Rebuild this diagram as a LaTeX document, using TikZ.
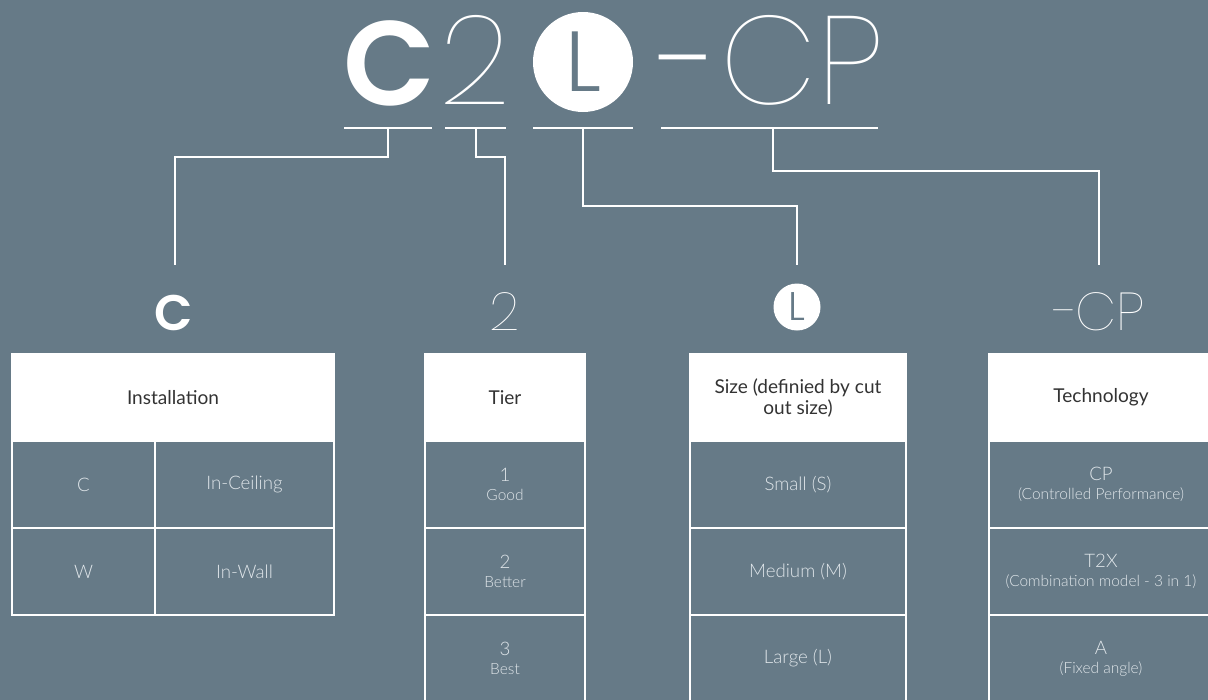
\documentclass[tikz,border=0pt]{standalone}
\usepackage{fontspec}
\setmainfont{Lato}
\newfontfamily\celllight{Lato Light}
\newfontfamily\popbold{Poppins SemiBold}
\newfontfamily\popreg{Poppins}
\newfontfamily\popthin{Poppins Thin}
\newfontfamily\poplight{Poppins Light}
\newfontfamily\popxlight{Poppins ExtraLight}
\usetikzlibrary{positioning}
\definecolor{slate}{HTML}{667A87}
\definecolor{hdrtext}{HTML}{333333}
\definecolor{celltext}{HTML}{E0E6EA}

\begin{document}
\begin{tikzpicture}[
    x=0.75pt, y=-0.75pt,
    hdr/.style={draw=white, fill=white, line width=1.2pt, minimum height=65.25pt, inner sep=0pt, align=center, text=hdrtext, font=\fontsize{14.3}{15.75}\selectfont},
    cell/.style={draw=white, line width=1.2pt, minimum height=65.25pt, inner sep=0pt, align=center, text=celltext, font=\celllight\fontsize{14}{14.25}\selectfont},
    sub/.style={font=\celllight\fontsize{11.6}{14.25}\selectfont},
    big thin/.style={anchor=base, text=white, font=\popthin\fontsize{94}{94}\selectfont},
    small thin/.style={anchor=base, text=white, font=\popthin\fontsize{40}{40}\selectfont},
    link thick/.style={draw=white, line width=2pt},
    link thin/.style={draw=white, line width=1pt},
]
\fill[slate] (0,0) rectangle (1208,700);
\clip (0,0) rectangle (1208,700);

% Model code
\node[anchor=base, text=white, font=\popbold\fontsize{90}{90}\selectfont] (tC) at (390,105) {C};
\node[big thin] (t2) at (475,104) {2};
\node[circle, fill=white, minimum size=75pt, inner sep=0pt, text=slate, font=\poplight\fontsize{64}{64}\selectfont] (tL) at (583,62) {L};
\node[anchor=base, text=white, font=\popxlight\fontsize{94}{94}\selectfont] (tDash) at (683,104) {−};
\node[big thin] (tCP) at (802,104) {CP};

% Underlines
\draw[link thick] (344,128) -- (432,128);
\draw[link thin] (445,128) -- (506,128);
\draw[link thick] (533,128) -- (633,128);
\draw[link thin] (661,128) -- (878,128);

\coordinate (sC) at (388,128);
\coordinate (s2) at (476,128);
\coordinate (sL) at (583,128);
\coordinate (sCP) at (773,128);
\coordinate (eC) at (175,265);
\coordinate (e2) at (505,265);
\coordinate (eL) at (797,265);
\coordinate (eCP) at (1099,265);

% Connectors
\draw[link thick] (sC) -- ++(0,29) -| (eC);
\draw[link thin] (s2) -- ++(0,29) -| (e2);
\draw[link thick] (sL) -- ++(0,78) -| (eL);
\draw[link thin] (sCP) -- ++(0,43) -| (eCP);

% Labels
\node[anchor=base, text=white, font=\popbold\fontsize{37.5}{37.5}\selectfont] (lC) at (174,330) {C};
\node[small thin] (l2) at (505,330) {2};
\node[circle, fill=white, minimum size=35.25pt, inner sep=0pt, text=slate, font=\poplight\fontsize{30}{30}\selectfont] (lL) at (797,307) {L};
\node[small thin] (lCP) at (1098,330) {−CP};

% Installation
\node[hdr, minimum width=241.5pt] (instH) at (173,397.5) {Installation};
\node[cell, minimum width=107.25pt] (instC) at (83.5,484.5) {C};
\node[cell, minimum width=134.25pt] (instCv) at (244.5,484.5) {In-Ceiling};
\node[cell, minimum width=107.25pt] (instW) at (83.5,571.5) {W};
\node[cell, minimum width=134.25pt] (instWv) at (244.5,571.5) {In-Wall};

% Tier
\node[hdr, minimum width=120pt] (tierH) at (505,397.5) {Tier};
\node[cell, minimum width=120pt] (tier1) at (505,484.5) {1\\{\fontsize{11.6}{14.25}\selectfont Good}};
\node[cell, minimum width=120pt] (tier2) at (505,571.5) {2\\{\fontsize{11.6}{14.25}\selectfont Better}};
\node[cell, minimum width=120pt] (tier3) at (505,658.5) {3\\{\fontsize{11.6}{14.25}\selectfont Best}};

% Size
\node[hdr, minimum width=162pt] (sizeH) at (798,397.5) {Size (definied by cut\\out size)};
\node[cell, minimum width=162pt] (sizeS) at (798,484.5) {Small (S)};
\node[cell, minimum width=162pt] (sizeM) at (798,571.5) {Medium (M)};
\node[cell, minimum width=162pt] (sizeL) at (798,658.5) {Large (L)};

% Technology
\node[hdr, minimum width=168pt] (techH) at (1101,397.5) {Technology};
\node[cell, minimum width=168pt] (techCP) at (1101,484.5) {CP\\{\fontsize{11.6}{14.25}\selectfont (Controlled Performance)}};
\node[cell, minimum width=168pt] (techT) at (1101,571.5) {T2X\\{\fontsize{11.6}{14.25}\selectfont (Combination model - 3 in 1)}};
\node[cell, minimum width=168pt] (techA) at (1101,658.5) {A\\{\fontsize{11.6}{14.25}\selectfont (Fixed angle)}};

\end{tikzpicture}
\end{document}
